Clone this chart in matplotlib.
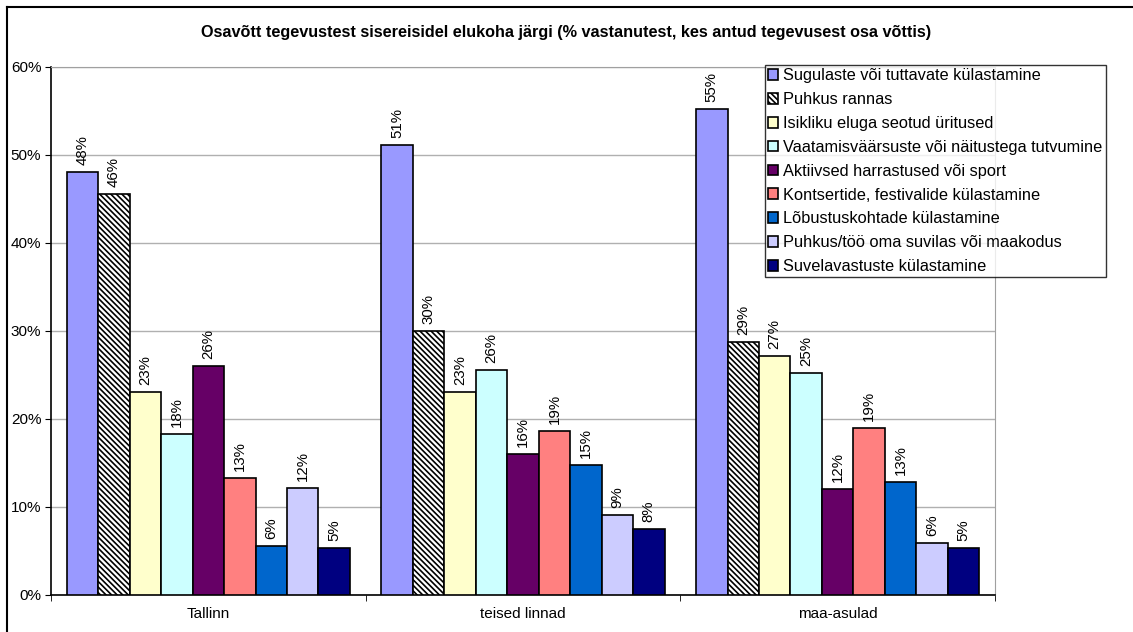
import numpy as np
import matplotlib
matplotlib.use("Agg")
import matplotlib.pyplot as plt
from matplotlib.lines import Line2D

plt.rcParams['font.family'] = ['Liberation Sans', 'DejaVu Sans']
plt.rcParams['hatch.linewidth'] = 1.2

title = "Osavõtt tegevustest sisereisidel elukoha järgi (% vastanutest, kes antud tegevusest osa võttis)"
groups = ["Tallinn", "teised linnad", "maa-asulad"]
series = [
    "Sugulaste või tuttavate külastamine",
    "Puhkus rannas",
    "Isikliku eluga seotud üritused",
    "Vaatamisväärsuste või näitustega tutvumine",
    "Aktiivsed harrastused või sport",
    "Kontsertide, festivalide külastamine",
    "Lõbustuskohtade külastamine",
    "Puhkus/töö oma suvilas või maakodus",
    "Suvelavastuste külastamine",
]
# values per series: Tallinn, teised linnad, maa-asulad
sugulased = [48.1, 51.1, 55.2]
rannas = [45.6, 30.0, 28.7]
isiklik = [23.1, 23.1, 27.2]
vaatamis = [18.3, 25.6, 25.2]
aktiivsed = [26.0, 16.0, 12.1]
kontserdid = [13.3, 18.6, 19.0]
lobustus = [5.6, 14.8, 12.8]
suvila = [12.2, 9.1, 5.9]
suvelav = [5.3, 7.55, 5.3]
values = [sugulased, rannas, isiklik, vaatamis, aktiivsed, kontserdid, lobustus, suvila, suvelav]

colors = ["#9999FF", "white", "#FFFFCC", "#CCFFFF", "#660066",
          "#FF8080", "#0066CC", "#CCCCFF", "#000080"]
hatches = [None, "\\" * 6, None, None, None, None, None, None, None]

fig = plt.figure(figsize=(11.33, 6.32), dpi=100)
ax = fig.add_axes([51/1133, 1-595/632, (995-51)/1133, (595-67)/632])

n = len(series)
w = 1.0 / (n + 1)
x = np.arange(len(groups))
handles = []
for i in range(n):
    pos = x - 0.5 + w + i*w
    bars = ax.bar(pos, values[i], width=w, color=colors[i], edgecolor="black",
                  linewidth=1.2, hatch=hatches[i], label=series[i], zorder=3)
    handles.append(bars)
    for b, v in zip(bars, values[i]):
        ax.annotate(f"{v:.0f}%", (b.get_x() + b.get_width()/2, v),
                    xytext=(0, 5), textcoords="offset points", rotation=90,
                    ha="center", va="bottom", fontsize=10.8)

ax.set_xlim(-0.5, len(groups) - 0.5)
ax.set_ylim(0, 60)
ax.set_yticks(np.arange(0, 61, 10))
ax.set_yticklabels([f"{t}%" for t in range(0, 61, 10)], fontsize=11)
ax.set_xticks(x)
ax.set_xticklabels(groups, fontsize=11)
ax.tick_params(axis="x", length=0, pad=9)
ax.set_xticks(np.arange(-0.5, len(groups), 1), minor=True)
ax.tick_params(axis="x", which="minor", length=4, direction="out")
ax.tick_params(axis="y", length=4, direction="out", pad=3)
ax.yaxis.grid(True, color="#b0b0b0", linewidth=1, zorder=0)
ax.set_axisbelow(True)
for s in ["top", "right"]:
    ax.spines[s].set_color("#a0a0a0")
ax.spines["left"].set_linewidth(1.2)
ax.spines["bottom"].set_linewidth(1.2)

fig.text(0.5, 1-33/632, title, ha="center", va="center", fontsize=11.7, fontweight="bold")

leg = fig.legend(handles=handles, labels=series, loc="upper left",
                 bbox_to_anchor=(765/1133, 1-65/632), fontsize=11.8,
                 frameon=True, fancybox=False, borderpad=0.2, labelspacing=0.54,
                 handlelength=0.62, handleheight=0.62, handletextpad=0.3,
                 borderaxespad=0)
leg.get_frame().set_edgecolor("black")
leg.get_frame().set_linewidth(1.0)

# outer chart border (right and bottom edges fall outside the image)
fig.add_artist(Line2D([7/1133, 7/1133], [0, 1-7/632], transform=fig.transFigure,
                      color="black", linewidth=1.5))
fig.add_artist(Line2D([7/1133, 1], [1-7/632, 1-7/632], transform=fig.transFigure,
                      color="black", linewidth=1.5))

fig.savefig("out.png", dpi=100)
